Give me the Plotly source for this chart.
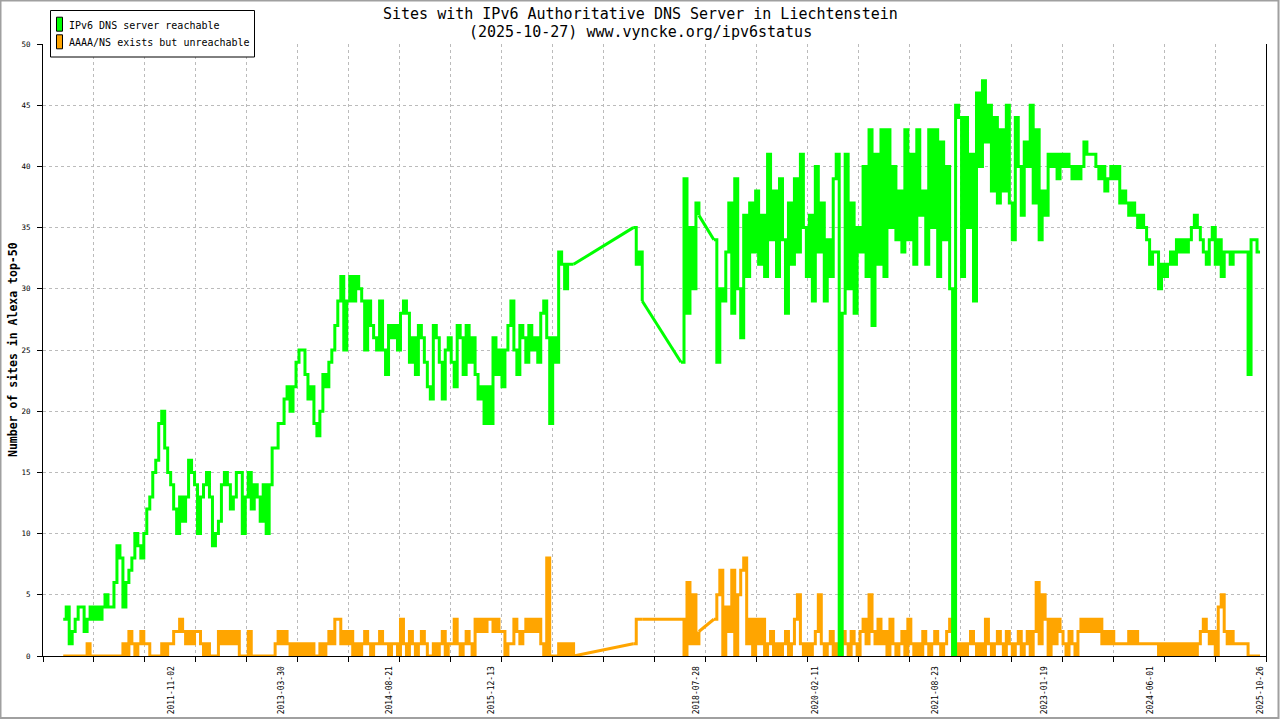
import pandas as pd
import plotly.graph_objects as go

_ = None  # no measurement on that sample date (data gap)

sample_start = "2010-06-11"
sample_end = "2025-10-26"

reachable = [
    3, 4, 1, 2, 3, 4, 4, 2, 3, 4,
    3, 4, 3, 4, 5, 4, 4, 6, 9, 8,
    4, 6, 7, 8, 10, 9, 8, 10, 12, 13,
    15, 16, 19, 20, 17, 15, 14, 12, 10, 13,
    11, 13, 16, 15, 14, 10, 13, 14, 15, 13,
    9, 10, 11, 14, 15, 14, 12, 13, 15, 15,
    10, 13, 15, 12, 14, 13, 11, 14, 10, 14,
    17, 17, 19, 19, 21, 22, 20, 22, 24, 25,
    25, 23, 21, 22, 19, 18, 20, 23, 22, 24,
    25, 27, 29, 31, 25, 29, 31, 29, 31, 30,
    29, 25, 29, 27, 26, 25, 29, 25, 23, 27,
    26, 27, 25, 28, 29, 28, 24, 26, 23, 27,
    26, 24, 22, 21, 27, 26, 24, 21, 25, 26,
    24, 22, 27, 26, 23, 27, 24, 26, 23, 21,
    22, 19, 22, 19, 26, 23, 25, 22, 25, 27,
    29, 25, 23, 27, 26, 24, 27, 25, 26, 24,
    28, 29, 26, 19, 26, 24, 33, 32, 30, 32,
    32, 32, _, _, _, _, _, _, _, _,
    _, _, _, _, _, _, _, _, _, _,
    _, 35, 32, 33, 29, _, _, _, _, _,
    _, _, _, _, _, _, _, 24, 39, 28,
    35, 30, 37, 36, _, _, _, _, 34, 24,
    30, 29, 33, 37, 28, 39, 30, 26, 36, 31,
    37, 33, 38, 32, 36, 31, 41, 34, 38, 31,
    39, 34, 28, 37, 32, 39, 33, 41, 35, 31,
    36, 29, 40, 33, 37, 29, 34, 31, 39, 41,
    0, 28, 41, 30, 37, 28, 35, 33, 40, 31,
    43, 27, 41, 32, 43, 31, 43, 35, 40, 34,
    38, 33, 43, 34, 41, 32, 43, 36, 38, 32,
    43, 35, 43, 31, 42, 34, 40, 30, 0, 45,
    44, 31, 44, 35, 41, 29, 46, 40, 47, 42,
    45, 38, 44, 37, 43, 38, 45, 37, 34, 44,
    40, 36, 42, 40, 45, 37, 43, 34, 38, 36,
    41, 40, 41, 39, 41, 40, 41, 40, 39, 40,
    39, 40, 42, 41, 41, 41, 40, 39, 40, 38,
    39, 40, 39, 40, 37, 38, 37, 36, 37, 36,
    35, 36, 35, 34, 32, 33, 33, 30, 32, 31,
    32, 33, 32, 34, 33, 34, 33, 34, 35, 36,
    35, 34, 33, 32, 34, 35, 32, 34, 31, 33,
    33, 32, 33, 33, 33, 33, 33, 23, 34, 34,
    33, 33,
]

unreachable = [
    0, 0, 0, 0, 0, 0, 0, 0, 1, 0,
    0, 0, 0, 0, 0, 0, 0, 0, 0, 0,
    1, 0, 2, 1, 0, 1, 2, 1, 1, 0,
    0, 0, 0, 1, 0, 1, 1, 2, 2, 3,
    2, 1, 2, 1, 2, 2, 1, 0, 1, 0,
    0, 0, 2, 1, 2, 1, 2, 1, 2, 0,
    0, 0, 2, 0, 0, 0, 0, 0, 0, 0,
    0, 1, 2, 1, 2, 1, 0, 1, 0, 1,
    0, 1, 0, 1, 0, 0, 1, 0, 1, 2,
    1, 3, 3, 1, 2, 1, 2, 0, 1, 0,
    1, 2, 1, 0, 1, 1, 2, 1, 1, 0,
    1, 1, 0, 3, 1, 0, 2, 1, 0, 1,
    2, 1, 0, 0, 1, 0, 1, 2, 0, 1,
    1, 3, 1, 0, 1, 2, 1, 0, 3, 2,
    3, 2, 3, 3, 2, 3, 2, 2, 0, 1,
    1, 3, 2, 1, 2, 3, 2, 3, 2, 3,
    1, 0, 8, 0, 0, 0, 1, 0, 1, 0,
    1, 0, _, _, _, _, _, _, _, _,
    _, _, _, _, _, _, _, _, _, _,
    _, 1, 3, 3, 3, _, _, _, _, _,
    _, _, _, _, _, _, _, 3, 0, 6,
    1, 5, 1, 2, _, _, _, _, 3, 5,
    7, 0, 4, 2, 7, 0, 5, 7, 8, 1,
    3, 0, 3, 1, 3, 0, 1, 2, 0, 1,
    0, 1, 2, 0, 1, 3, 5, 1, 0, 1,
    0, 1, 2, 5, 1, 0, 1, 2, 0, 1,
    0, 2, 1, 0, 2, 1, 0, 2, 3, 1,
    5, 2, 1, 3, 1, 2, 0, 3, 1, 0,
    1, 2, 0, 3, 1, 0, 1, 0, 2, 1,
    0, 1, 2, 1, 0, 1, 2, 3, 0, 1,
    0, 1, 0, 1, 2, 1, 0, 1, 0, 3,
    1, 0, 1, 2, 1, 0, 2, 1, 0, 1,
    2, 0, 1, 2, 0, 2, 6, 1, 5, 3,
    0, 3, 1, 3, 2, 1, 0, 2, 1, 0,
    2, 3, 2, 3, 2, 3, 2, 3, 1, 2,
    1, 2, 1, 1, 1, 1, 1, 2, 1, 2,
    1, 1, 1, 1, 1, 1, 1, 0, 1, 0,
    1, 0, 1, 0, 1, 0, 1, 0, 1, 0,
    1, 2, 3, 2, 1, 2, 0, 4, 5, 2,
    1, 2, 1, 1, 1, 1, 1, 0, 0, 0,
    0, 0,
]

label_dates = ["2011-11-02", "2013-03-30", "2014-08-21", "2015-12-13",
               "2018-07-28", "2020-02-11", "2021-08-23", "2023-01-19",
               "2024-06-01", "2025-10-26"]
y_ticks = [0, 5, 10, 15, 20, 25, 30, 35, 40, 45, 50]

series_names = ["IPv6 DNS server reachable", "AAAA/NS exists but unreachable"]
series_colors = ["#00ff00", "#ffa500"]
title_line1 = "Sites with IPv6 Authoritative DNS Server in Liechtenstein"
title_line2 = "(2025-10-27) www.vyncke.org/ipv6status"
y_title = "Number of sites in Alexa top-50"

# ---------------------------------------------------------------------------
dates = list(pd.date_range(sample_start, sample_end, periods=len(reachable)))

W, H = 1280, 720
ML, MR, MT, MB = 43, 14, 44, 64
PW, PH = W - ML - MR, H - MT - MB
FONT = "DejaVu Sans Mono"

x_range = ["2010-03-08 02:00", "2025-11-23 02:00"]
span_ms = (pd.Timestamp(x_range[1]) - pd.Timestamp(x_range[0])).total_seconds() * 1000
minor_dtick = span_ms / 24


def px(xp):
    return (xp - ML) / PW


def py(yp):
    return (H - MB - yp) / PH


def gap_bridges(xs, vals):
    """Straight joins across runs of missing samples (the data gaps)."""
    bx, by = [], []
    i = 0
    n = len(vals)
    while i < n - 1:
        if vals[i] is not None and vals[i + 1] is None:
            j = i + 1
            while j < n and vals[j] is None:
                j += 1
            if j < n:
                bx += [xs[i], xs[j], None]
                by += [vals[i], vals[j], None]
            i = j
        else:
            i += 1
    return bx, by


fig = go.Figure()
for vals, name, col in [(unreachable, series_names[1], series_colors[1]),
                        (reachable, series_names[0], series_colors[0])]:
    bx, by = gap_bridges(dates, vals)
    fig.add_trace(go.Scatter(x=bx, y=by, mode="lines", name=name,
                             line=dict(color=col, width=3), showlegend=False,
                             hoverinfo="skip"))
    fig.add_trace(go.Scatter(x=dates, y=vals, mode="lines", name=name,
                             line=dict(color=col, width=3, shape="hv"),
                             connectgaps=False, showlegend=False))

shapes = []
annotations = []

# outer frame
shapes.append(dict(type="rect", xref="paper", yref="paper",
                   x0=px(0.5), x1=px(1278.5), y0=py(0.5), y1=py(718),
                   line=dict(color="#a0a0a0", width=2), fillcolor="rgba(0,0,0,0)",
                   layer="above"))

# legend box
shapes.append(dict(type="rect", xref="paper", yref="paper",
                   x0=px(50.5), x1=px(254.5), y0=py(10.5), y1=py(57),
                   line=dict(color="black", width=1), fillcolor="white", layer="above"))
for i, (yc, col) in enumerate([(24.2, series_colors[0]), (41.8, series_colors[1])]):
    shapes.append(dict(type="rect", xref="paper", yref="paper",
                       x0=px(56.5), x1=px(62.5), y0=py(yc - 7), y1=py(yc + 7),
                       line=dict(color="black", width=1), fillcolor=col, layer="above"))
    annotations.append(dict(xref="paper", yref="paper", x=px(67), y=py(yc + 1),
                            text=series_names[i], showarrow=False,
                            xanchor="left", yanchor="middle",
                            font=dict(family=FONT, size=10, color="black")))

# title (two centred lines)
for txt, yc in [(title_line1, 14), (title_line2, 32)]:
    annotations.append(dict(xref="paper", yref="paper", x=px(640), y=py(yc),
                            text=txt, showarrow=False,
                            xanchor="center", yanchor="middle",
                            font=dict(family=FONT, size=15, color="black")))

annotations.append(dict(xref="paper", yref="paper", x=px(13), y=0.5,
                        text=y_title, textangle=-90, showarrow=False,
                        xanchor="center", yanchor="middle",
                        font=dict(family=FONT, size=11.5, color="black", weight="bold")))

fig.update_layout(
    width=W, height=H,
    template="none",
    paper_bgcolor="white", plot_bgcolor="white",
    margin=dict(l=ML, r=MR, t=MT, b=MB, pad=0, autoexpand=False),
    showlegend=False,
    font=dict(family=FONT, color="black"),
    shapes=shapes,
    annotations=annotations,
    xaxis=dict(
        type="date", range=x_range, automargin=False,
        tickmode="array", tickvals=label_dates, ticktext=label_dates,
        tickangle=-90, ticks="", showgrid=False, zeroline=False,
        tickfont=dict(family=FONT, size=8, color="black"),
        ticklabelstandoff=6,
        showline=True, linecolor="black", linewidth=1, mirror=False,
        minor=dict(tick0=x_range[0], dtick=minor_dtick, ticks="outside",
                   ticklen=5, tickcolor="black", tickwidth=1,
                   showgrid=True, gridcolor="#bbbbbb", griddash="dot", gridwidth=1),
    ),
    yaxis=dict(
        range=[0, 50], automargin=False,
        tickmode="array", tickvals=y_ticks, ticktext=[str(v) for v in y_ticks],
        ticks="outside", ticklen=5, tickcolor="black", tickwidth=1,
        tickfont=dict(family=FONT, size=7.5, color="black"),
        ticklabelstandoff=5,
        showgrid=True, gridcolor="#bbbbbb", griddash="dot", gridwidth=1,
        zeroline=False,
        showline=True, linecolor="black", linewidth=1, mirror=True,
    ),
)

fig.write_html("out.html", config={"displayModeBar": False},
               post_script="document.body.style.margin='0';")
